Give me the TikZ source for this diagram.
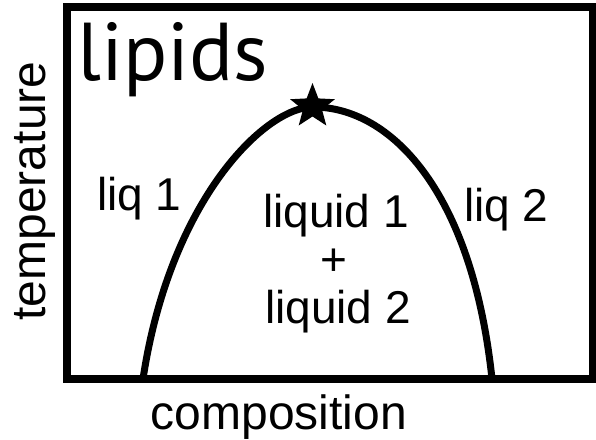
\documentclass[tikz,border=0pt]{standalone}
\usepackage{fontspec}
\setmainfont{Liberation Sans}
\newfontfamily\lipfont{PT Sans}
\tikzset{
  frame/.style={line width=8pt},
  phaseline/.style={line width=7pt, line join=round},
  lbl/.style={inner sep=0pt, font=\fontsize{46}{48}\selectfont},
  axislbl/.style={inner sep=0pt, font=\fontsize{48}{50}\selectfont},
}
\begin{document}
\begin{tikzpicture}[x=1pt,y=-1pt]
\useasboundingbox (0,0) rectangle (596,439);
\fill[white] (0,0) rectangle (596,439);
% coexistence curve
\coordinate (bl) at (143,379);
\coordinate (peak) at (313,107);
\coordinate (br) at (492,379);
\draw[phaseline] (bl) .. controls (170,200) and (265,107) .. (peak)
  .. controls (390,107) and (472,190) .. (br);
% frame
\draw[frame] (66.5,7) rectangle (593,379);
% critical point star
\fill (312.5,83)
  \foreach \k in {1,...,9} { -- ({312.5+ (mod(\k,2)==1 ? 10 : 23.5)*sin(36*\k)}, {106.5 - (mod(\k,2)==1 ? 10 : 23.5)*cos(36*\k)}) } -- cycle;
\node[inner sep=0pt, anchor=base west, font=\lipfont\fontsize{82}{84}\selectfont] (title) at (77,80) {lipids};
\node[lbl, anchor=base west] (liq1) at (97,210) {liq 1};
\node[lbl, anchor=base west] (liq2) at (464,221) {liq 2};
\node[lbl, anchor=base] (mix1) at (336,227) {liquid 1};
\node[lbl, anchor=base] (plus) at (334,275) {+};
\node[lbl, anchor=base] (mix2) at (338,323) {liquid 2};
\node[axislbl, anchor=base] (xlab) at (279,429) {composition};
\node[axislbl, anchor=base, rotate=90] (ylab) at (45,191) {temperature};
\end{tikzpicture}
\end{document}
